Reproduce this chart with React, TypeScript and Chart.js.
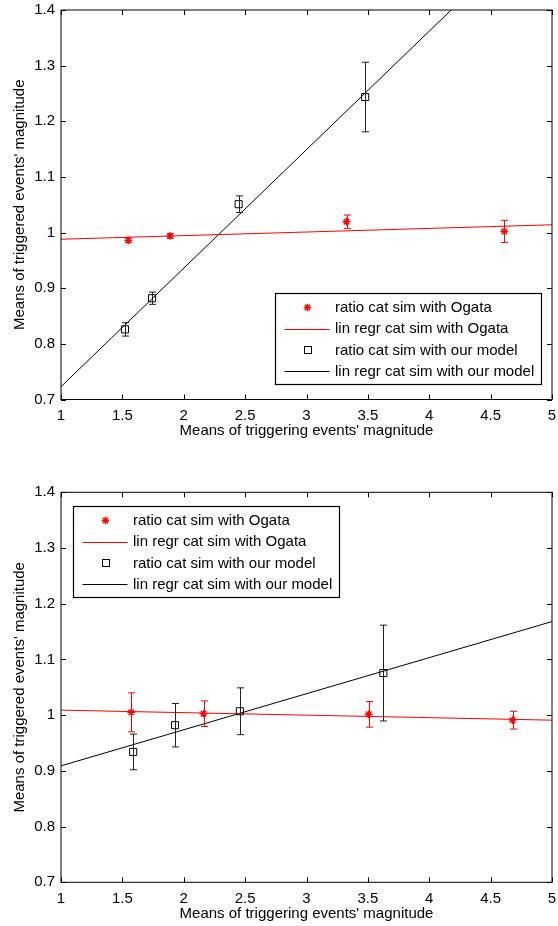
import React, { useEffect, useRef } from "react";
import { Chart, registerables } from "chart.js";

Chart.register(...registerables);

const FONT = "'Liberation Sans', Arial, Helvetica, sans-serif";

// ---------- text ----------
const legendLabels = [
  "ratio cat sim with Ogata",
  "lin regr cat sim with Ogata",
  "ratio cat sim with our model",
  "lin regr cat sim with our model",
];
const xAxisTitle = "Means of triggering events' magnitude";
const yAxisTitle = "Means of triggered events' magnitude";

// ---------- tick labels ----------
const xTickValues = [1, 1.5, 2, 2.5, 3, 3.5, 4, 4.5, 5];
const yTickValues = [0.7, 0.8, 0.9, 1, 1.1, 1.2, 1.3, 1.4];

// ---------- top panel data ----------
const topOgataX = [1.548, 1.888, 3.326, 4.611];
const topOgataY = [0.986, 0.994, 1.0195, 1.002];
const topOgataErr = [0.004, 0.004, 0.012, 0.02];
const topModelX = [1.521, 1.742, 2.447, 3.478];
const topModelY = [0.826, 0.882, 1.051, 1.2436];
const topModelErr = [0.012, 0.011, 0.015, 0.0625];
const topFitX = [1, 5];
const topOgataFitY = [0.988, 1.014];
const topModelFitY = [0.723, 1.575];

// ---------- bottom panel data ----------
const botOgataX = [1.572, 2.161, 3.507, 4.679];
const botOgataY = [1.005, 1.0026, 1.0015, 0.991];
const botOgataErr = [0.035, 0.023, 0.023, 0.016];
const botModelX = [1.588, 1.929, 2.457, 3.626];
const botModelY = [0.934, 0.982, 1.007, 1.0756];
const botModelErr = [0.032, 0.039, 0.042, 0.086];
const botFitX = [1, 5];
const botOgataFitY = [1.009, 0.991];
const botModelFitY = [0.909, 1.168];

const RED = "#ff0000";
const BLACK = "#000000";

type Panel = {
  ogataX: number[];
  ogataY: number[];
  ogataErr: number[];
  modelX: number[];
  modelY: number[];
  modelErr: number[];
  fitX: number[];
  ogataFitY: number[];
  modelFitY: number[];
  legendCorner: "se" | "nw";
  padTop: number;
  xAxisHeight: number;
  xTitlePadBottom: number;
};

const pts = (xs: number[], ys: number[]) => xs.map((x, i) => ({ x, y: ys[i] }));

const zeroPad = () => ({ left: 0, top: 0, right: 0, bottom: 0 });

function drawStar(ctx: CanvasRenderingContext2D, x: number, y: number, r: number) {
  ctx.beginPath();
  ctx.moveTo(x - r, y);
  ctx.lineTo(x + r, y);
  ctx.moveTo(x, y - r);
  ctx.lineTo(x, y + r);
  const d = r * Math.SQRT1_2;
  ctx.moveTo(x - d, y - d);
  ctx.lineTo(x + d, y + d);
  ctx.moveTo(x - d, y + d);
  ctx.lineTo(x + d, y - d);
  ctx.stroke();
}

function makeDecor(p: Panel) {
  return {
    id: "decor",
    afterDatasetsDraw(chart: any) {
      const { ctx, chartArea: a } = chart;
      const xs = chart.scales.x;
      const ys = chart.scales.y;
      ctx.save();
      // error bars
      const sets = [
        { x: p.ogataX, y: p.ogataY, e: p.ogataErr, c: RED },
        { x: p.modelX, y: p.modelY, e: p.modelErr, c: "#222222" },
      ];
      ctx.lineWidth = 1;
      sets.forEach((s) => {
        ctx.strokeStyle = s.c;
        s.x.forEach((xv, i) => {
          const px = Math.round(xs.getPixelForValue(xv)) + 0.5;
          const t = ys.getPixelForValue(s.y[i] + s.e[i]);
          const b = ys.getPixelForValue(s.y[i] - s.e[i]);
          ctx.beginPath();
          ctx.moveTo(px, t);
          ctx.lineTo(px, b);
          ctx.moveTo(px - 3.5, t);
          ctx.lineTo(px + 3.5, t);
          ctx.moveTo(px - 3.5, b);
          ctx.lineTo(px + 3.5, b);
          ctx.stroke();
        });
      });
      // frame
      ctx.strokeStyle = BLACK;
      ctx.lineWidth = 1;
      ctx.strokeRect(a.left, a.top, a.right - a.left, a.bottom - a.top);
      // inward ticks on all sides
      const TL = 5;
      ctx.beginPath();
      xs.ticks.forEach((t: any) => {
        const px = Math.round(xs.getPixelForValue(t.value)) + 0.5;
        ctx.moveTo(px, a.bottom);
        ctx.lineTo(px, a.bottom - TL);
        ctx.moveTo(px, a.top);
        ctx.lineTo(px, a.top + TL);
      });
      ys.ticks.forEach((t: any) => {
        const py = Math.round(ys.getPixelForValue(t.value)) + 0.5;
        ctx.moveTo(a.left, py);
        ctx.lineTo(a.left + TL, py);
        ctx.moveTo(a.right, py);
        ctx.lineTo(a.right - TL, py);
      });
      ctx.stroke();

      // legend
      const W = 266;
      const H = 91;
      let lx: number, ly: number;
      if (p.legendCorner === "se") {
        lx = a.right - 11 - W;
        ly = a.bottom - 15.5 - H;
      } else {
        lx = a.left + 12.3;
        ly = a.top + 13.4;
      }
      lx = Math.round(lx) + 0.5;
      ly = Math.round(ly) + 0.5;
      ctx.fillStyle = "#ffffff";
      ctx.fillRect(lx, ly, W, H);
      ctx.strokeStyle = BLACK;
      ctx.lineWidth = 1.2;
      ctx.strokeRect(lx, ly, W, H);
      ctx.font = `15px ${FONT}`;
      ctx.textBaseline = "middle";
      ctx.textAlign = "left";
      const ds = chart.data.datasets;
      ds.forEach((d: any, i: number) => {
        const ry = ly + 14 + i * 21.2;
        const color = d.borderColor;
        ctx.strokeStyle = color;
        ctx.lineWidth = 1;
        if (d.showLine) {
          ctx.beginPath();
          ctx.moveTo(lx + 9, Math.round(ry) + 0.5);
          ctx.lineTo(lx + 54, Math.round(ry) + 0.5);
          ctx.stroke();
        } else if (d.pointStyle === "star") {
          ctx.lineWidth = 1.4;
          drawStar(ctx, lx + 32, ry, 3.8);
        } else {
          ctx.strokeRect(Math.round(lx + 28.5) + 0.5, Math.round(ry - 3.5) + 0.5, 7, 7);
        }
        ctx.fillStyle = BLACK;
        ctx.fillText(d.label, lx + 59.5, ry + 0.5);
      });
      ctx.restore();
    },
  };
}

function PanelChart({ p }: { p: Panel }) {
  const ref = useRef<HTMLCanvasElement | null>(null);
  useEffect(() => {
    if (!ref.current) return;
    const chart = new Chart(ref.current, {
      type: "scatter",
      data: {
        datasets: [
          {
            label: legendLabels[0],
            data: pts(p.ogataX, p.ogataY),
            showLine: false,
            pointStyle: "star",
            pointRadius: 3.9,
            pointBorderWidth: 1.4,
            borderColor: RED,
            backgroundColor: RED,
            order: 1,
          } as any,
          {
            label: legendLabels[1],
            data: pts(p.fitX, p.ogataFitY),
            showLine: true,
            pointRadius: 0,
            borderWidth: 1,
            borderColor: RED,
            backgroundColor: RED,
            order: 2,
          } as any,
          {
            label: legendLabels[2],
            data: pts(p.modelX, p.modelY),
            showLine: false,
            pointStyle: "rect",
            pointRadius: 5,
            pointBorderWidth: 1,
            borderColor: BLACK,
            backgroundColor: "rgba(0,0,0,0)",
            order: 1,
          } as any,
          {
            label: legendLabels[3],
            data: pts(p.fitX, p.modelFitY),
            showLine: true,
            pointRadius: 0,
            borderWidth: 1,
            borderColor: BLACK,
            backgroundColor: BLACK,
            order: 2,
          } as any,
        ],
      },
      options: {
        animation: false,
        responsive: false,
        devicePixelRatio: 1,
        layout: { padding: { top: p.padTop, right: 3, left: 0, bottom: 0 } },
        plugins: {
          legend: { display: false },
          tooltip: { enabled: false },
        },
        scales: {
          x: {
            type: "linear",
            min: 1,
            max: 5,
            grid: { display: false, drawTicks: false },
            border: { display: false },
            afterBuildTicks: (s: any) => {
              s.ticks = xTickValues.map((v) => ({ value: v }));
            },
            afterFit: (s: any) => {
              s.height = p.xAxisHeight;
              s.paddingLeft = 0;
              s.paddingRight = 0;
              s.getPadding = zeroPad;
            },
            ticks: {
              autoSkip: false,
              maxRotation: 0,
              padding: 7.5,
              color: BLACK,
              font: { family: FONT, size: 15 },
              callback: (v: any) => String(v),
            },
            title: {
              display: true,
              text: xAxisTitle,
              color: BLACK,
              font: { family: FONT, size: 15 },
              padding: { top: 0, bottom: p.xTitlePadBottom },
            },
          },
          y: {
            type: "linear",
            min: 0.7,
            max: 1.4,
            grid: { display: false, drawTicks: false },
            border: { display: false },
            afterBuildTicks: (s: any) => {
              s.ticks = yTickValues.map((v) => ({ value: v }));
            },
            afterFit: (s: any) => {
              s.width = 61;
              s.paddingTop = 0;
              s.paddingBottom = 0;
              s.getPadding = zeroPad;
            },
            ticks: {
              autoSkip: false,
              padding: 6,
              color: BLACK,
              font: { family: FONT, size: 15 },
              callback: (v: any) => String(v),
            },
            title: {
              display: true,
              text: yAxisTitle,
              color: BLACK,
              font: { family: FONT, size: 15 },
              padding: { top: 11, bottom: 0 },
            },
          },
        },
      },
      plugins: [makeDecor(p)],
    } as any);
    return () => chart.destroy();
  }, [p]);
  return <canvas ref={ref} width={558} height={463} style={{ display: "block" }} />;
}

const topPanel: Panel = {
  ogataX: topOgataX,
  ogataY: topOgataY,
  ogataErr: topOgataErr,
  modelX: topModelX,
  modelY: topModelY,
  modelErr: topModelErr,
  fitX: topFitX,
  ogataFitY: topOgataFitY,
  modelFitY: topModelFitY,
  legendCorner: "se",
  padTop: 10,
  xAxisHeight: 63.5,
  xTitlePadBottom: 23,
};

const botPanel: Panel = {
  ogataX: botOgataX,
  ogataY: botOgataY,
  ogataErr: botOgataErr,
  modelX: botModelX,
  modelY: botModelY,
  modelErr: botModelErr,
  fitX: botFitX,
  ogataFitY: botOgataFitY,
  modelFitY: botModelFitY,
  legendCorner: "nw",
  padTop: 29.3,
  xAxisHeight: 43.7,
  xTitlePadBottom: 2.7,
};

export default function App() {
  return (
    <div
      style={{
        position: "absolute",
        left: 0,
        top: 0,
        width: 558,
        height: 926,
        background: "#ffffff",
      }}
    >
      <PanelChart p={topPanel} />
      <PanelChart p={botPanel} />
    </div>
  );
}
